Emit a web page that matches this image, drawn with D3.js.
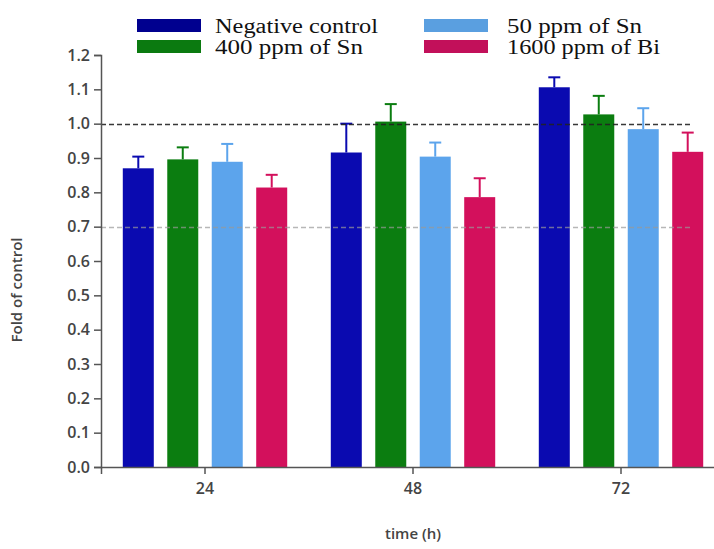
<!DOCTYPE html>
<html>
<head>
<meta charset="utf-8">
<script src="https://cdn.jsdelivr.net/npm/d3@7"></script>
<style>
  body { margin: 0; background: #fff; }
  .tick text { font-family: "Open Sans", sans-serif; fill: #444; }
</style>
</head>
<body>
<div id="chart"></div>
<script>
// data
var times = ['24', '48', '72'];
var series = ['Negative control', '400 ppm of Sn', '50 ppm of Sn', '1600 ppm of Bi'];
var colors = ['#0a0ab0', '#0b7d10', '#5ca4ec', '#d3105c'];
var legendColors = ['#00008f', '#0b7a10', '#5a9fe0', '#c2105a'];

var means = {
  '24': [0.870, 0.896, 0.889, 0.814],
  '48': [0.916, 1.006, 0.904, 0.786],
  '72': [1.106, 1.027, 0.984, 0.918]
};
var errs = {
  '24': [0.034, 0.035, 0.052, 0.037],
  '48': [0.084, 0.051, 0.041, 0.055],
  '72': [0.029, 0.054, 0.061, 0.056]
};
var yTicks = [0, 0.1, 0.2, 0.3, 0.4, 0.5, 0.6, 0.7, 0.8, 0.9, 1.0, 1.1, 1.2];
var refLines = [1.0, 0.7];

var width = 714, height = 549;
var svg = d3.select('#chart').append('svg')
  .attr('width', width)
  .attr('height', height);

var x0 = d3.scaleBand().domain(times).range([101, 725]);
var x1 = d3.scaleBand().domain(series).range([0, x0.bandwidth()])
  .paddingInner(0.303).paddingOuter(0.49);
var y = d3.scaleLinear().domain([0, 1.2]).range([467, 55]);

// bars
var groups = svg.append('g').selectAll('g')
  .data(times)
  .enter().append('g')
  .attr('transform', function(t) { return 'translate(' + x0(t) + ',0)'; });

var cells = groups.selectAll('g.cell')
  .data(function(t) {
    return series.map(function(s, i) {
      return { t: t, s: s, i: i, v: means[t][i], e: errs[t][i] };
    });
  })
  .enter().append('g').attr('class', 'cell');

// error bars (upper only)
cells.append('line')
  .attr('x1', function(d) { return x1(d.s) + x1.bandwidth() / 2; })
  .attr('x2', function(d) { return x1(d.s) + x1.bandwidth() / 2; })
  .attr('y1', function(d) { return y(d.v); })
  .attr('y2', function(d) { return y(d.v + d.e); })
  .attr('stroke', function(d) { return colors[d.i]; })
  .attr('stroke-width', 2);

cells.append('line')
  .attr('x1', function(d) { return x1(d.s) + x1.bandwidth() / 2 - 6; })
  .attr('x2', function(d) { return x1(d.s) + x1.bandwidth() / 2 + 6; })
  .attr('y1', function(d) { return y(d.v + d.e); })
  .attr('y2', function(d) { return y(d.v + d.e); })
  .attr('stroke', function(d) { return colors[d.i]; })
  .attr('stroke-width', 2);

cells.append('rect')
  .attr('x', function(d) { return x1(d.s); })
  .attr('y', function(d) { return y(d.v); })
  .attr('width', x1.bandwidth())
  .attr('height', function(d) { return y(0) - y(d.v); })
  .attr('fill', function(d) { return colors[d.i]; });

// dashed reference lines, on top of bars
svg.append('g').selectAll('line')
  .data(refLines)
  .enter().append('line')
  .attr('x1', 101)
  .attr('x2', 692)
  .attr('y1', function(d) { return Math.round(y(d)) + 0.5; })
  .attr('y2', function(d) { return Math.round(y(d)) + 0.5; })
  .attr('stroke', function(d) { return d === 1.0 ? '#222' : '#999'; })
  .attr('stroke-opacity', function(d) { return d === 1.0 ? 0.9 : 0.7; })
  .attr('stroke-width', 1.5)
  .attr('stroke-dasharray', '5,3');

// axes
var yAxis = svg.append('g')
  .attr('transform', 'translate(101,0)')
  .call(d3.axisLeft(y).tickValues(yTicks).tickFormat(d3.format('.1f')).tickSize(7).tickPadding(4));
yAxis.selectAll('text').style('font-size', '16px').style('font-weight', 600);

var xAxis = svg.append('g')
  .attr('transform', 'translate(0,467)')
  .call(d3.axisBottom(x0).tickSize(7).tickPadding(9));
xAxis.selectAll('text').style('font-size', '16px').style('font-weight', 600);

svg.selectAll('.domain, .tick line').attr('stroke', '#555').attr('stroke-width', 1.5);

// axis titles
svg.append('text')
  .attr('transform', 'translate(22,290) rotate(-90)')
  .attr('text-anchor', 'middle')
  .style('font-family', '"Open Sans", sans-serif')
  .style('font-size', '15px')
  .style('font-weight', 600)
  .style('fill', '#444')
  .text('Fold of control');

svg.append('text')
  .attr('x', 413)
  .attr('y', 539)
  .attr('text-anchor', 'middle')
  .style('font-family', '"Open Sans", sans-serif')
  .style('font-size', '15px')
  .style('font-weight', 600)
  .style('fill', '#444')
  .text('time (h)');

// legend, two columns
var legendPos = [[137, 19], [137, 40], [424, 19], [424, 40]];
var legendWidths = [163, 148, 135, 153];

var legend = svg.append('g').selectAll('g')
  .data(series)
  .enter().append('g')
  .attr('transform', function(d, i) { return 'translate(' + legendPos[i][0] + ',' + legendPos[i][1] + ')'; });

legend.append('rect')
  .attr('width', 64)
  .attr('height', 13)
  .attr('fill', function(d, i) { return legendColors[i]; });

legend.append('text')
  .attr('x', function(d, i) { return i < 2 ? 78 : 83; })
  .attr('y', 14)
  .attr('textLength', function(d, i) { return legendWidths[i]; })
  .attr('lengthAdjust', 'spacingAndGlyphs')
  .style('font-family', '"Liberation Serif", "Times New Roman", serif')
  .style('font-size', '20px')
  .style('fill', '#111')
  .text(function(d) { return d; });
</script>
</body>
</html>
